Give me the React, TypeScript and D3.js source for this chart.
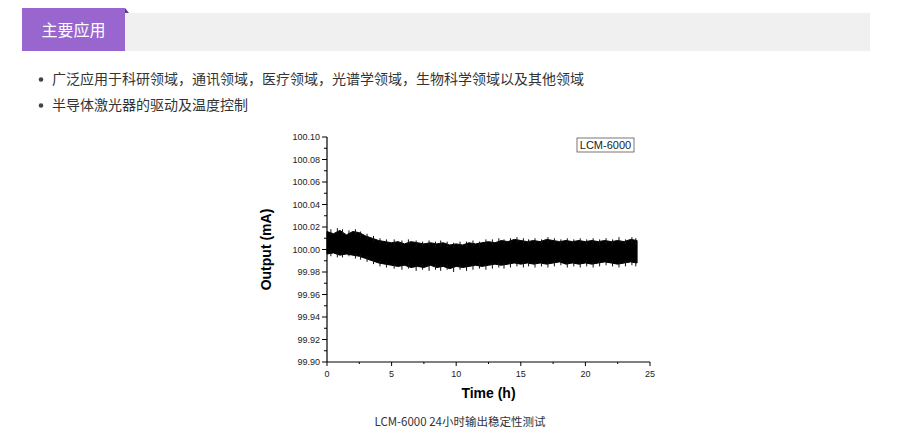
import React from "react";
import * as d3 from "d3";

const headerTitle = "主要应用";
const bullets = [
  "广泛应用于科研领域，通讯领域，医疗领域，光谱学领域，生物科学领域以及其他领域",
  "半导体激光器的驱动及温度控制",
];
const legendLabel = "LCM-6000";
const caption = "LCM-6000 24小时输出稳定性测试";
const xTitle = "Time (h)";
const yTitle = "Output (mA)";

const xTicks = [0, 5, 10, 15, 20, 25];
const yTicks = [99.9, 99.92, 99.94, 99.96, 99.98, 100.0, 100.02, 100.04, 100.06, 100.08, 100.1];

const times = [
  0, 0.5, 1, 1.5, 2, 2.5, 3, 3.5, 4, 4.5, 5, 5.5, 6, 6.5, 7, 7.5, 8, 8.5, 9, 9.5,
  10, 10.5, 11, 11.5, 12, 12.5, 13, 13.5, 14, 14.5, 15, 15.5, 16, 16.5, 17, 17.5,
  18, 18.5, 19, 19.5, 20, 20.5, 21, 21.5, 22, 22.5, 23, 23.5, 24,
];
const upper = [
  100.016, 100.014, 100.017, 100.013, 100.016, 100.015, 100.012, 100.01, 100.008, 100.007,
  100.006, 100.007, 100.005, 100.007, 100.006, 100.005, 100.006, 100.005, 100.006, 100.004,
  100.005, 100.004, 100.006, 100.005, 100.006, 100.007, 100.006, 100.008, 100.007, 100.009,
  100.008, 100.007, 100.008, 100.007, 100.009, 100.008, 100.007, 100.008, 100.007, 100.008,
  100.007, 100.008, 100.007, 100.008, 100.007, 100.008, 100.007, 100.009, 100.008,
];
const lower = [
  99.996, 99.997, 99.995, 99.996, 99.995, 99.994, 99.992, 99.99, 99.988, 99.987,
  99.986, 99.985, 99.986, 99.984, 99.985, 99.984, 99.986, 99.984, 99.985, 99.983,
  99.985, 99.984, 99.985, 99.986, 99.985, 99.986, 99.987, 99.986, 99.987, 99.988,
  99.987, 99.988, 99.987, 99.988, 99.987, 99.988, 99.989, 99.987, 99.988, 99.987,
  99.988, 99.987, 99.988, 99.989, 99.988, 99.987, 99.988, 99.989, 99.988,
];

const spikeTimes = [
  0.3, 0.8, 1.2, 1.7, 2.2, 2.6, 3.1, 3.6, 4.1, 4.6, 5.2, 5.8, 6.3, 6.9, 7.4, 7.9, 8.4,
  8.8, 9.3, 9.8, 10.3, 10.8, 11.3, 11.8, 12.3, 12.8, 13.3, 13.7, 14.2, 14.7, 15.2, 15.6,
  16.1, 16.6, 17.1, 17.6, 18.1, 18.6, 19.1, 19.6, 20.1, 20.6, 21.1, 21.6, 22.1, 22.6,
  23.1, 23.6, 23.9,
];
const upperSpikes = [
  100.018, 100.019, 100.018, 100.017, 100.018, 100.016, 100.014, 100.012, 100.01, 100.009,
  100.009, 100.008, 100.009, 100.008, 100.007, 100.008, 100.007, 100.008, 100.007, 100.006,
  100.007, 100.007, 100.008, 100.007, 100.009, 100.009, 100.01, 100.009, 100.01, 100.011,
  100.01, 100.009, 100.01, 100.009, 100.011, 100.01, 100.009, 100.01, 100.009, 100.01,
  100.009, 100.01, 100.009, 100.01, 100.009, 100.011, 100.009, 100.011, 100.01,
];
const lowerSpikes = [
  99.994, 99.993, 99.993, 99.994, 99.992, 99.991, 99.989, 99.987, 99.985, 99.984,
  99.983, 99.982, 99.983, 99.981, 99.982, 99.981, 99.982, 99.981, 99.982, 99.98,
  99.982, 99.981, 99.982, 99.983, 99.982, 99.983, 99.984, 99.983, 99.984, 99.985,
  99.984, 99.985, 99.984, 99.985, 99.984, 99.985, 99.986, 99.984, 99.985, 99.984,
  99.985, 99.984, 99.985, 99.986, 99.985, 99.984, 99.985, 99.986, 99.985,
];

export default function App() {
  const x = d3.scaleLinear().domain([0, 25]).range([327, 650]);
  const y = d3.scaleLinear().domain([99.9, 100.1]).range([362, 137]);
  const band = times.map((t, i) => ({ t, hi: upper[i], lo: lower[i] }));
  const area = d3
    .area<{ t: number; hi: number; lo: number }>()
    .x((d) => x(d.t))
    .y0((d) => y(d.lo))
    .y1((d) => y(d.hi));
  const yMinor = d3.range(99.9, 100.1001, 0.01);
  const xMinor = d3.range(0, 25.001, 2.5);
  const cjk = '"Microsoft YaHei", "Noto Sans CJK SC", "Noto Sans", sans-serif';
  const arial = '"Liberation Sans", Arial, sans-serif';
  return (
    <div style={{ position: "absolute", left: 0, top: 0 }}>
      <svg width={913} height={435} style={{ display: "block" }}>
        <rect x={0} y={0} width={913} height={435} fill="#fff" />
        <rect x={125} y={13} width={745} height={38} fill="#f0f0f0" />
        <rect x={22} y={8} width={103} height={43} fill="#9966cf" />
        <path d="M125,8 L129,13 L125,13 Z" fill="#5b3b8c" />
        <text x={73.5} y={36} textAnchor="middle" fill="#fff" fontSize={16} fontFamily={cjk}>
          {headerTitle}
        </text>
        {bullets.map((b, i) => (
          <g key={i}>
            <circle cx={41} cy={79.5 + i * 26} r={2.3} fill="#444" />
            <text x={52} y={84 + i * 26} fontSize={14} fill="#333" fontFamily={cjk}>
              {b}
            </text>
          </g>
        ))}
        <path d={area(band) || ""} fill="#000" stroke="#000" strokeWidth={1} />
        {spikeTimes.map((t, i) => (
          <g key={"sp" + i}>
            <line
              x1={x(t)}
              x2={x(t)}
              y1={y(upperSpikes[i])}
              y2={y(upperSpikes[i]) + 6}
              stroke="#111"
              strokeWidth={1}
            />
            <line
              x1={x(t)}
              x2={x(t)}
              y1={y(lowerSpikes[i])}
              y2={y(lowerSpikes[i]) - 6}
              stroke="#111"
              strokeWidth={1}
            />
          </g>
        ))}
        <line x1={327} x2={327} y1={y(100.1)} y2={y(99.9)} stroke="#000" strokeWidth={1.2} />
        <line x1={327} x2={x(25)} y1={362} y2={362} stroke="#000" strokeWidth={1.2} />
        {yMinor.map((v, i) => (
          <line
            key={"ym" + i}
            x1={327}
            x2={i % 2 === 0 ? 322 : 324}
            y1={y(v)}
            y2={y(v)}
            stroke="#000"
            strokeWidth={1}
          />
        ))}
        {yTicks.map((v) => (
          <text
            key={"yl" + v}
            x={320}
            y={y(v) + 3}
            textAnchor="end"
            fontSize={9}
            fill="#222"
            fontFamily={arial}
          >
            {v.toFixed(2)}
          </text>
        ))}
        {xMinor.map((v, i) => (
          <line
            key={"xm" + i}
            x1={x(v)}
            x2={x(v)}
            y1={362}
            y2={i % 2 === 0 ? 366 : 364}
            stroke="#000"
            strokeWidth={1}
          />
        ))}
        {xTicks.map((v) => (
          <text
            key={"xl" + v}
            x={x(v)}
            y={377}
            textAnchor="middle"
            fontSize={9}
            fill="#222"
            fontFamily={arial}
          >
            {v}
          </text>
        ))}
        <text
          x={(x(0) + x(25)) / 2}
          y={398}
          textAnchor="middle"
          fontSize={14}
          fontWeight="bold"
          fill="#000"
          fontFamily={arial}
        >
          {xTitle}
        </text>
        <text
          transform={`translate(271,${(y(100.1) + y(99.9)) / 2}) rotate(-90)`}
          textAnchor="middle"
          fontSize={14}
          fontWeight="bold"
          fill="#000"
          fontFamily={arial}
        >
          {yTitle}
        </text>
        <rect x={577} y={138} width={57} height={14} fill="#fff" stroke="#555" strokeWidth={0.8} />
        <text x={605.5} y={149} textAnchor="middle" fontSize={11} fill="#222" fontFamily={arial}>
          {legendLabel}
        </text>
        <text x={460} y={426} textAnchor="middle" fontSize={11.5} fill="#333" fontFamily={cjk}>
          {caption}
        </text>
      </svg>
    </div>
  );
}
